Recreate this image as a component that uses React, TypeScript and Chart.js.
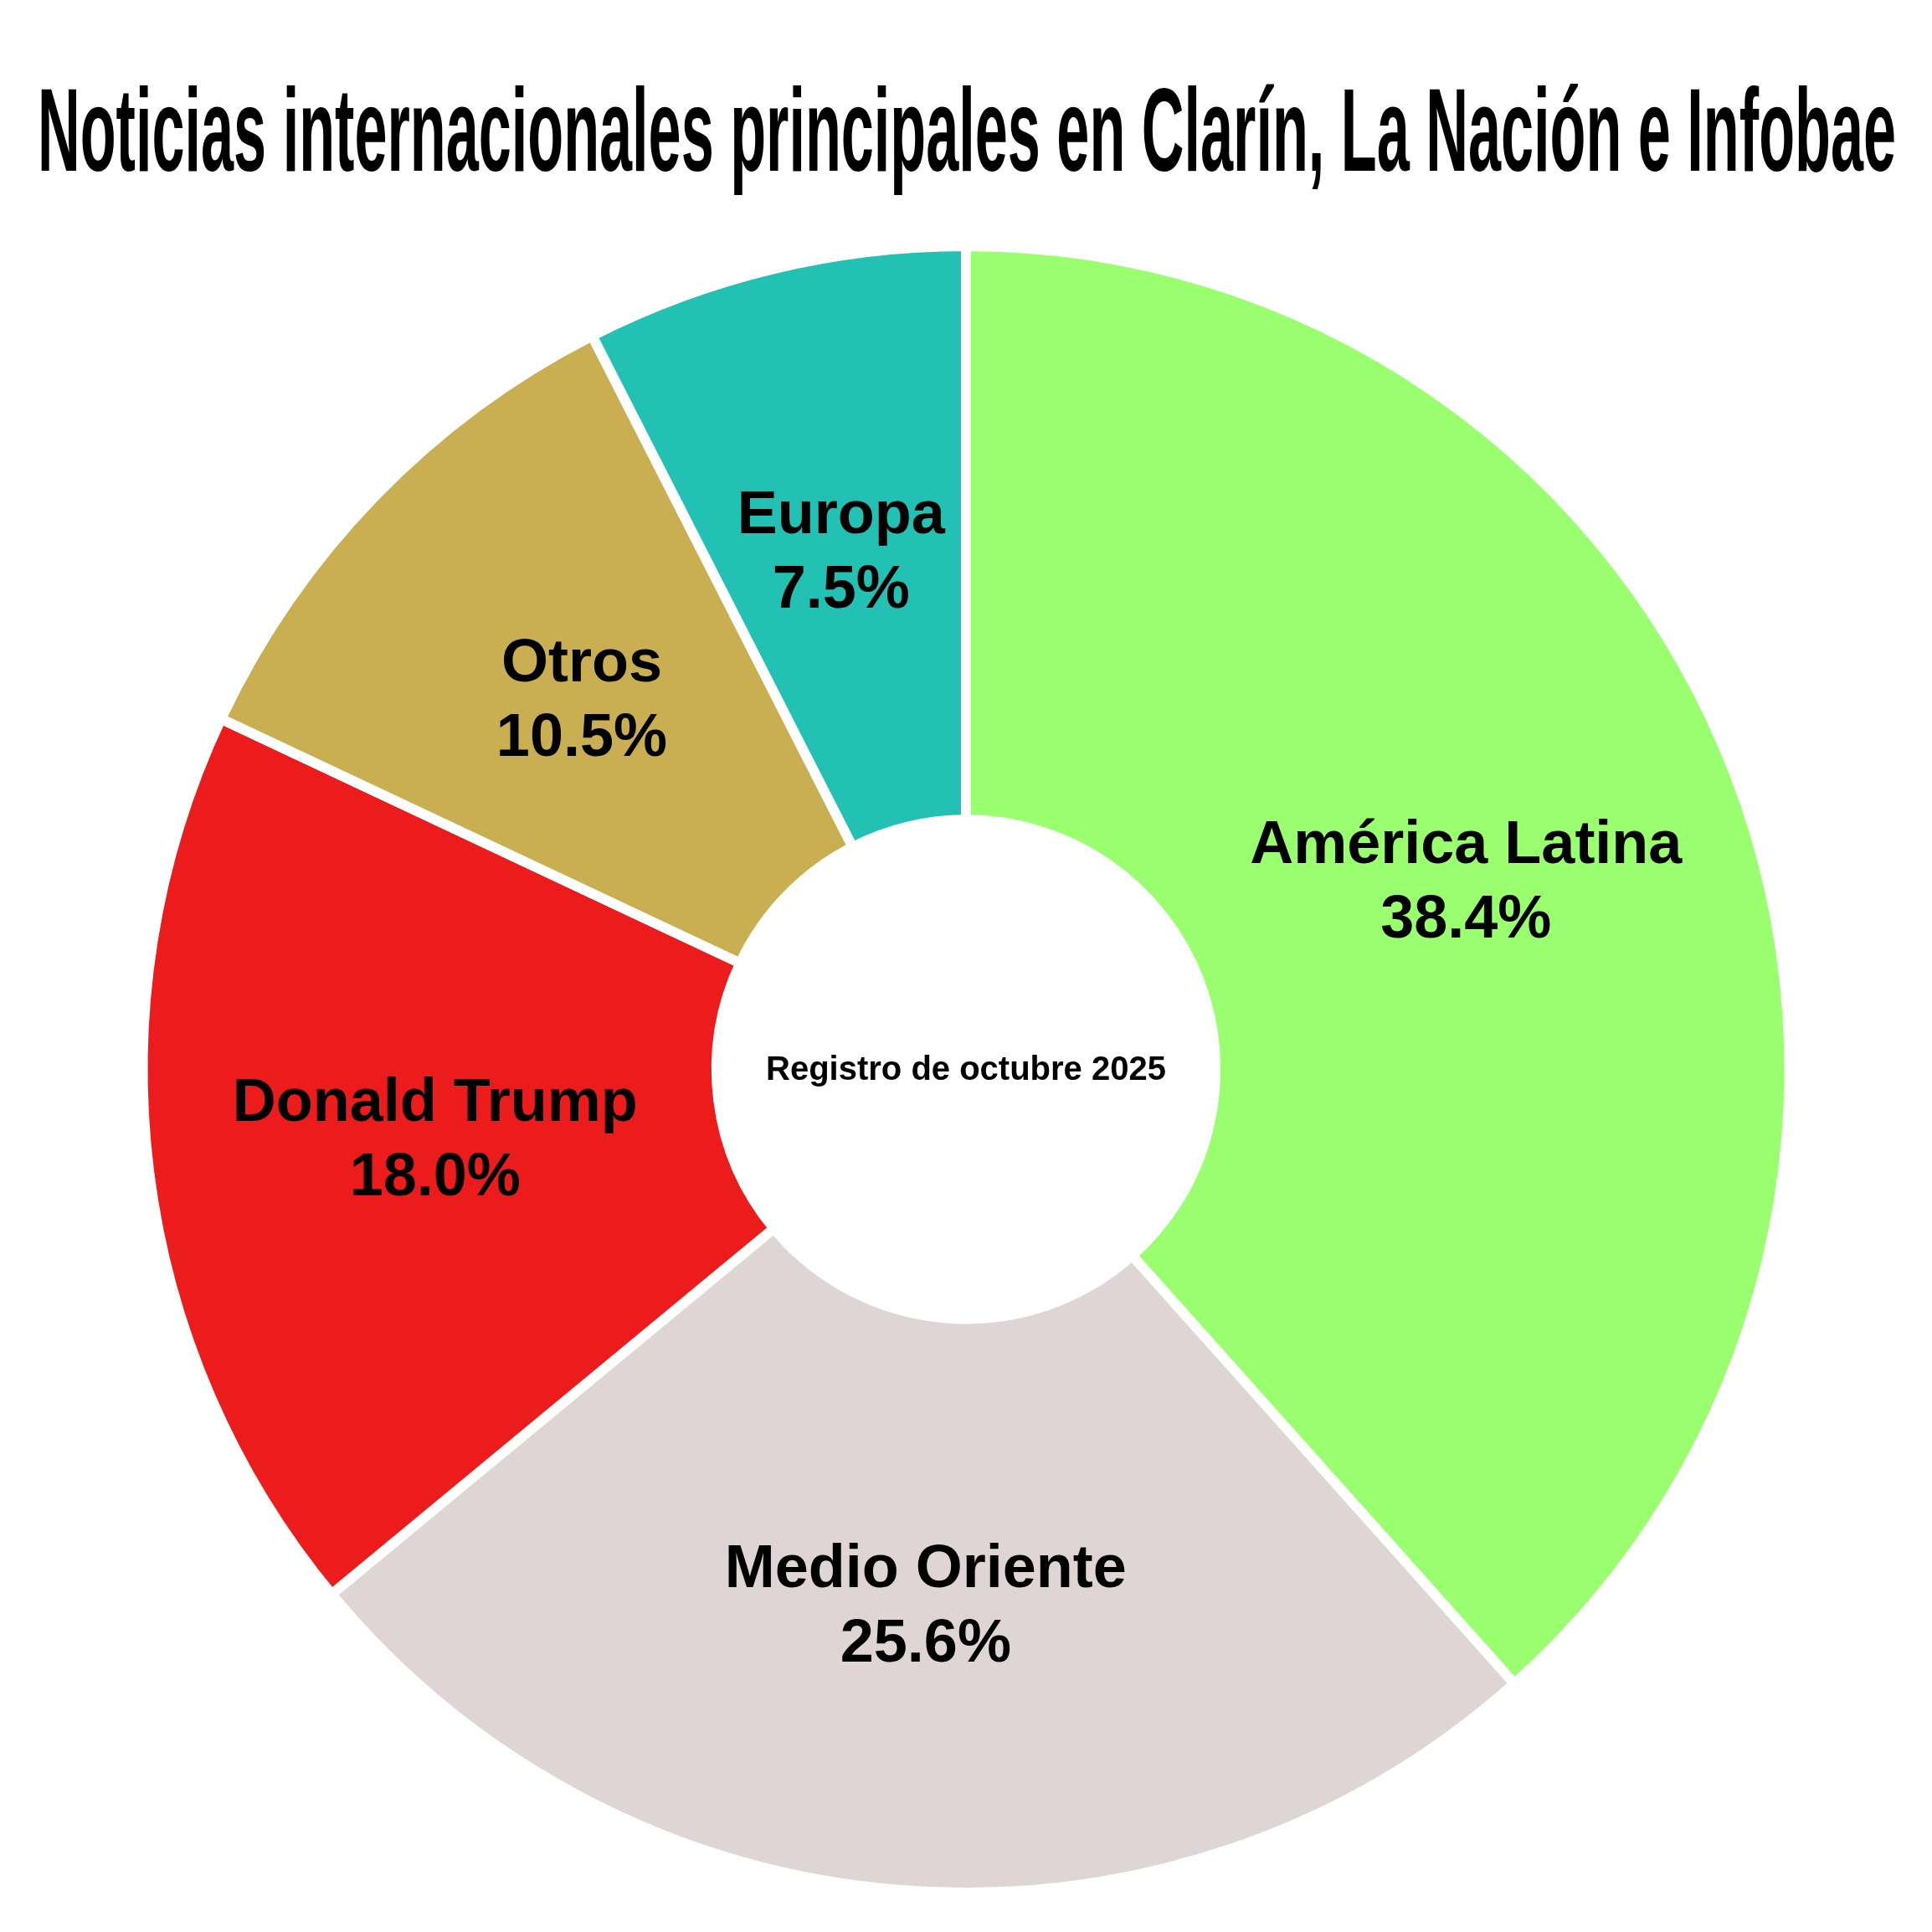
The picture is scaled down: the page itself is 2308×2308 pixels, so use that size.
import React, { useEffect, useRef } from 'react';
import { Chart, ArcElement, DoughnutController } from 'chart.js';

Chart.register(ArcElement, DoughnutController);

const TITLE = 'Noticias internacionales principales en Clarín, La Nación e Infobae';
const CENTER_TEXT = 'Registro de octubre 2025';
const categories = ['América Latina', 'Medio Oriente', 'Donald Trump', 'Otros', 'Europa'];
const shares = [38.4, 25.6, 18.0, 10.5, 7.5];
const colors = ['#99FF6E', '#E0D5D5', '#ED1C1C', '#C9AF52', '#22C1B4'];

const SIZE = 2308;
const FONT = '"Liberation Sans", Arial, "DejaVu Sans", sans-serif';

// title, labels inside the slices and the text in the hole
const textPlugin = {
    id: 'donutText',
    afterDatasetsDraw(chart: any) {
        const ctx = chart.ctx;
        const meta = chart.getDatasetMeta(0);
        ctx.save();
        ctx.fillStyle = '#000';
        ctx.textAlign = 'center';
        ctx.textBaseline = 'alphabetic';

        ctx.font = `bold 141px ${FONT}`;
        ctx.fillText(TITLE, 1155, 204, 2220);

        const fs = 72;
        ctx.font = `bold ${fs}px ${FONT}`;
        const half = fs * 0.716 / 2;
        meta.data.forEach((el: any, i: number) => {
            const { x, y, startAngle, endAngle, outerRadius } = el.getProps(['x', 'y', 'startAngle', 'endAngle', 'outerRadius'], true);
            const mid = (startAngle + endAngle) / 2;
            const r = outerRadius * 0.65;
            const lx = x + Math.cos(mid) * r;
            const ly = y + Math.sin(mid) * r;
            ctx.fillText(categories[i], lx, ly - 44.5 + half);
            ctx.fillText(`${shares[i].toFixed(1)}%`, lx, ly + 44.5 + half);
        });

        const first = meta.data[0];
        if (first) {
            ctx.font = `bold 40px ${FONT}`;
            ctx.fillText(CENTER_TEXT, first.x, first.y + 40 * 0.716 / 2 - 2);
        }
        ctx.restore();
    }
};

const App: React.FC = () => {
    const canvasRef = useRef<HTMLCanvasElement | null>(null);
    const chartRef = useRef<Chart | null>(null);

    useEffect(() => {
        document.body.style.margin = '0';
        document.body.style.background = '#fff';
        if (!canvasRef.current) return;
        if (chartRef.current) chartRef.current.destroy();
        chartRef.current = new Chart(canvasRef.current, {
            type: 'doughnut',
            data: {
                labels: categories,
                datasets: [{
                    data: shares,
                    backgroundColor: colors,
                    hoverBackgroundColor: colors,
                    borderColor: '#ffffff',
                    hoverBorderColor: '#ffffff',
                    borderWidth: 12,
                    hoverBorderWidth: 12,
                    hoverOffset: 0,
                }]
            },
            options: {
                responsive: false,
                animation: false,
                devicePixelRatio: 1,
                radius: 983.5,
                cutout: 294.5,
                events: [],
                layout: { padding: { top: 300, bottom: 53, left: 150, right: 150 } },
                plugins: { legend: { display: false }, tooltip: { enabled: false }, title: { display: false } }
            } as any,
            plugins: [textPlugin]
        });
        return () => { if (chartRef.current) { chartRef.current.destroy(); chartRef.current = null; } };
    }, []);

    return (
        <div style={{ width: SIZE, height: SIZE, background: '#fff' }}>
            <canvas ref={canvasRef} width={SIZE} height={SIZE} style={{ display: 'block', width: SIZE, height: SIZE }}></canvas>
        </div>
    );
};

export default App;
